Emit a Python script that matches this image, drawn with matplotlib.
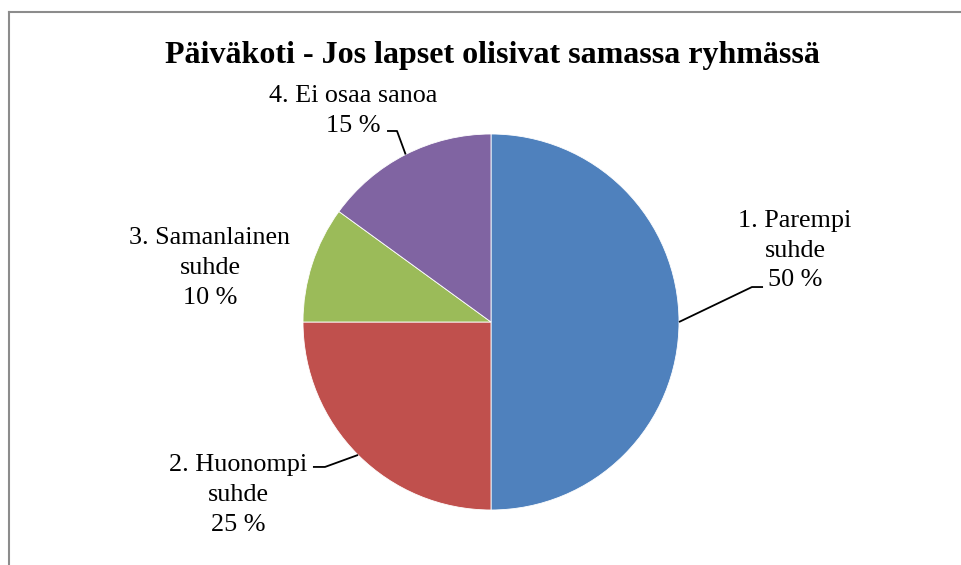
import numpy as np
import matplotlib
matplotlib.use("Agg")
import matplotlib.pyplot as plt
from matplotlib.lines import Line2D

title = "Päiväkoti - Jos lapset olisivat samassa ryhmässä"
categories = ["1. Parempi\nsuhde", "2. Huonompi\nsuhde", "3. Samanlainen\nsuhde", "4. Ei osaa sanoa"]
values = [50, 25, 10, 15]
colors = ["#4F81BD", "#C0504D", "#9BBB59", "#8064A2"]

W, H = 961, 565
fig = plt.figure(figsize=(W / 100, H / 100), dpi=100)
fig.patch.set_facecolor("white")

cx, cy, r = 491, 322, 188
ax = fig.add_axes([(cx - r) / W, (H - cy - r) / H, 2 * r / W, 2 * r / H])

wedges, _ = ax.pie(values, colors=colors, startangle=90, counterclock=False,
                   radius=1, wedgeprops=dict(edgecolor="white", linewidth=0.6))
ax.set_xlim(-1, 1)
ax.set_ylim(-1, 1)
ax.set_aspect("equal")
ax.axis("off")

fontfam = "Liberation Serif"
# label positions (data coords) and leader elbows
label_pos = [(1.617, 0.380), (-1.346, -0.920), (-1.495, 0.287), (-0.734, 1.123)]
leaders = [[(1.388, 0.186), (1.447, 0.186)],
           [(-0.883, -0.771), (-0.947, -0.771)],
           None,
           [(-0.50, 1.016), (-0.553, 1.016)]]

for w, cat, v, pos, ld in zip(wedges, categories, values, label_pos, leaders):
    txt = f"{cat}\n{v} %"
    ax.text(pos[0], pos[1], txt, ha="center", va="center", fontsize=18.8,
            family=fontfam, linespacing=1.45, multialignment="center", clip_on=False)
    if ld is not None:
        mid = np.deg2rad((w.theta1 + w.theta2) / 2)
        ex, ey = np.cos(mid), np.sin(mid)
        xs = [ex] + [p[0] for p in ld]
        ys = [ey] + [p[1] for p in ld]
        ax.plot(xs, ys, color="black", lw=1.3, clip_on=False, solid_capstyle="butt")

fig.text(492 / W, 1 - 55 / H, title, ha="center", va="center", fontsize=23,
         fontweight="bold", family=fontfam)

# chart frame (partial, as in the reference)
fig.add_artist(Line2D([8.5 / W, 8.5 / W], [0, 1 - 11.5 / H], color="#8c8c8c", lw=1.5,
                      transform=fig.transFigure))
fig.add_artist(Line2D([8.5 / W, 1], [1 - 11.5 / H, 1 - 11.5 / H], color="#8c8c8c", lw=1.5,
                      transform=fig.transFigure))

fig.savefig("out.png", dpi=100)
